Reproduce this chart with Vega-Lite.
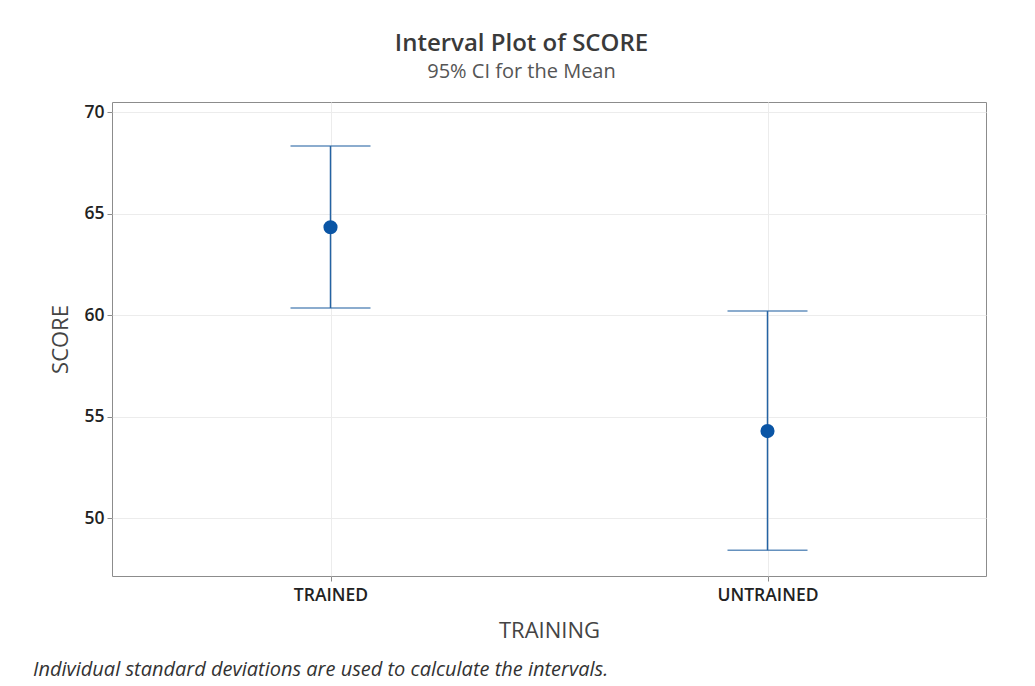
{
  "$schema": "https://vega.github.io/schema/vega-lite/v6.json",
  "background": "white",
  "padding": {"left": 32, "top": 31, "right": 48, "bottom": 0},
  "title": {
    "text": "Interval Plot of SCORE",
    "subtitle": "95% CI for the Mean",
    "font": "Open Sans",
    "fontSize": 24,
    "fontWeight": 600,
    "color": "#3a3a3a",
    "subtitleFont": "Open Sans",
    "subtitleFontSize": 20,
    "subtitleColor": "#555555",
    "subtitlePadding": 6,
    "anchor": "middle",
    "frame": "bounds",
    "dx": 12,
    "offset": 20
  },
  "config": {
    "view": {"stroke": "#8c8c8c", "strokeWidth": 1},
    "axis": {
      "labelFont": "Open Sans",
      "labelFontWeight": 600,
      "labelFontSize": 17.5,
      "labelColor": "#222222",
      "titleFont": "Open Sans",
      "titleFontWeight": 500,
      "titleFontSize": 22,
      "titleColor": "#444444",
      "gridColor": "#ececec",
      "gridWidth": 1,
      "tickColor": "#8c8c8c",
      "tickSize": 5,
      "domain": false
    }
  },
  "vconcat": [
    {
      "width": 874,
      "height": 474,
      "title": {
        "text": "Individual standard deviations are used to calculate the intervals.",
        "orient": "bottom",
        "anchor": "start",
        "frame": "bounds",
        "font": "Open Sans",
        "fontStyle": "italic",
        "fontWeight": "normal",
        "fontSize": 20,
        "color": "#333333",
        "dx": -17,
        "offset": 18
      },
      "data": {
        "values": [
          {"TRAINING": "TRAINED", "mean": 64.33, "lower": 60.35, "upper": 68.33},
          {"TRAINING": "UNTRAINED", "mean": 54.29, "lower": 48.42, "upper": 60.2}
        ]
      },
      "encoding": {
        "x": {
          "field": "TRAINING",
          "type": "nominal",
          "scale": {"type": "point", "padding": 0.5},
          "axis": {"labelAngle": 0, "labelPadding": 5, "titlePadding": 17, "grid": true, "title": "TRAINING"}
        }
      },
      "layer": [
        {
          "mark": {"type": "rule", "color": "#2463a3", "strokeWidth": 1.5},
          "encoding": {
            "y": {
              "field": "lower",
              "type": "quantitative",
              "scale": {"domain": [47.15, 70.5], "nice": false, "zero": false},
              "axis": {"values": [50, 55, 60, 65, 70], "title": "SCORE", "labelPadding": 3, "titlePadding": 11, "grid": true}
            },
            "y2": {"field": "upper"}
          }
        },
        {
          "mark": {"type": "tick", "color": "#2463a3", "size": 80, "thickness": 1.5},
          "encoding": {"y": {"field": "lower", "type": "quantitative"}}
        },
        {
          "mark": {"type": "tick", "color": "#2463a3", "size": 80, "thickness": 1.5},
          "encoding": {"y": {"field": "upper", "type": "quantitative"}}
        },
        {
          "mark": {"type": "circle", "color": "#0a55a5", "opacity": 1, "size": 200},
          "encoding": {"y": {"field": "mean", "type": "quantitative"}}
        }
      ]
    }
  ]
}
